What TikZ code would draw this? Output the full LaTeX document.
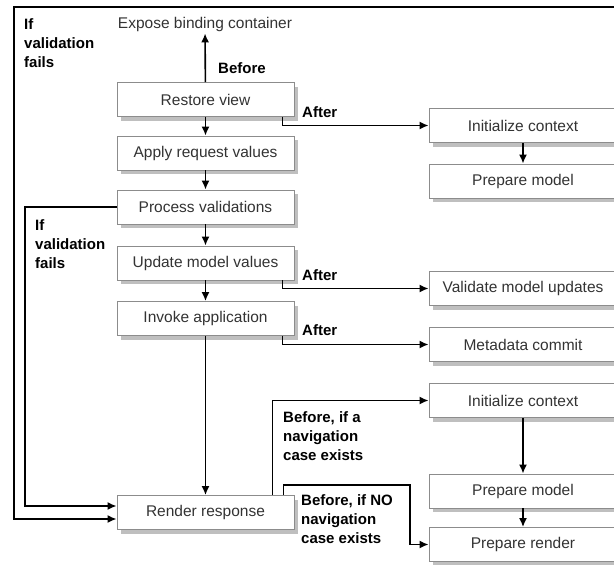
\documentclass[tikz,border=0pt]{standalone}
\usepackage{fontspec}
\setmainfont{Liberation Sans}
\usetikzlibrary{arrows.meta,positioning,calc,shadows}

\begin{document}
\begin{tikzpicture}[x=1pt, y=-1pt,
    box/.style={rectangle, draw=black!45, line width=0.9pt, fill=white, minimum width=#1, minimum height=34pt, inner sep=0pt, font=\fontsize{15.5}{18}\selectfont, text=black!80, drop shadow={shadow xshift=4pt, shadow yshift=-4pt, fill=black!25, opacity=1}},
    box/.default=177pt,
    lbl/.style={font=\fontsize{15}{19}\selectfont\bfseries, align=left, inner sep=0pt},
    arr/.style={-{Latex[length=9pt,width=8pt]}, line width=1.6pt}
]
\useasboundingbox (0,0) rectangle (614,565);
% main phases
\node[inner sep=2pt, font=\fontsize{15.5}{18}\selectfont, text=black!80] (expose) at (205,24) {Expose binding container};
\node[box] (rv) at (205.5,99.5) {Restore view};
\node[box] (arv) at (205.5,153) {Apply request values};
\node[box] (pv) at (205.5,207) {Process validations};
\node[box] (umv) at (205.5,263) {Update model values};
\node[box] (ia) at (205.5,318.5) {Invoke application};
\node[box] (rr) at (205.5,512.5) {Render response};
% listener phases
\node[box=188pt] (ic1) at (523,125.5) {Initialize context};
\node[box=188pt] (pm1) at (523,181) {Prepare model};
\node[box=188pt] (vmu) at (523,288.5) {Validate model updates};
\node[box=188pt] (mc) at (523,344.5) {Metadata commit};
\node[box=188pt] (ic2) at (523,400.5) {Initialize context};
\node[box=188pt] (pm2) at (523,491) {Prepare model};
\node[box=188pt] (pr) at (523,544.5) {Prepare render};
% labels
\node[lbl, anchor=north west] (fail1) at (24,18) {If\\validation\\fails};
\node[lbl, anchor=north west] (fail2) at (35,219) {If\\validation\\fails};
\node[lbl, anchor=west] (before) at (218,68) {Before};
\node[lbl, anchor=west] (after1) at (302,112) {After};
\node[lbl, anchor=west] (after2) at (302,275) {After};
\node[lbl, anchor=west] (after3) at (302,330) {After};
\node[lbl, anchor=north west] (navyes) at (283,411) {Before, if a\\navigation\\case exists};
\node[lbl, anchor=north west] (navno) at (301,494) {Before, if NO\\navigation\\case exists};
\coordinate (inx) at (25,0);
\coordinate (frametr) at (614,7);
\coordinate (framex) at (14,0);
\coordinate (nobend) at (410,485);

\draw[arr] (rv) -- (expose);
\draw[arr] (rv) -- (arv);
\draw[arr] (arv) -- (pv);
\draw[arr] (pv) -- (umv);
\draw[arr] (umv) -- (ia);
\draw[arr] (ia) -- (rr);
\draw[arr] (ic1) -- (pm1);
\draw[arr] (ic2) -- (pm2);
\draw[arr] (pm2) -- (pr);
\draw[arr] ($(rv.south east)+(-12,0)$) |- (ic1.west);
\draw[arr] ($(umv.south east)+(-12,0)$) |- (vmu.west);
\draw[arr] ($(ia.south east)+(-12,0)$) |- (mc.west);
\draw[arr] ($(rr.north east)+(-22,0)$) |- (ic2.west);
\draw[arr] ($(rr.north east)+(-11,0)$) |- (nobend) |- (pr.west);
% validation loops
\draw[arr] (pv.west) -- (pv.west -| inx) |- ($(rr.west)+(0,-6.5)$);
\draw[arr] (frametr) -- (frametr -| framex) |- ($(rr.west)+(0,6.5)$);
\end{tikzpicture}
\end{document}
